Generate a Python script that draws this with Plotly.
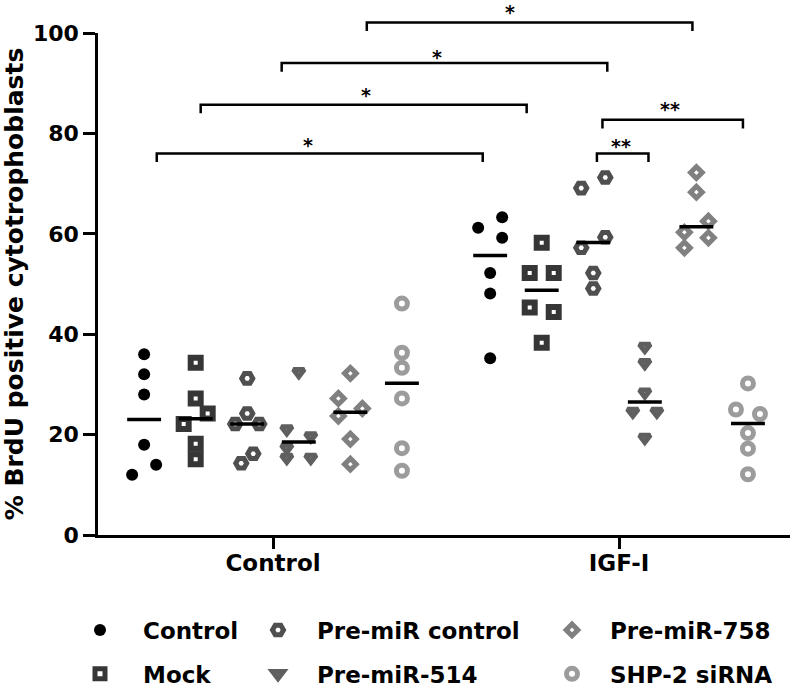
import numpy as np
import plotly.graph_objects as go

# ---------------- data ----------------
conditions = ["Control", "IGF-I"]
groups = ["Control", "Mock", "Pre-miR control", "Pre-miR-514", "Pre-miR-758", "SHP-2 siRNA"]

# % BrdU positive values; first list = Control condition, second = IGF-I condition
control_vals = [[36, 32, 28, 18, 14, 12], [63.3, 61.2, 59.2, 52.2, 48.1, 35.2]]
mock_vals = [[34.3, 27.2, 24.2, 22.1, 18.2, 15.1], [58.2, 52.2, 52.2, 45.3, 44.4, 38.3]]
premir_ctrl_vals = [[31.2, 24.2, 22.1, 22.1, 16.2, 14.3], [71.2, 69.1, 59.3, 57.2, 52.2, 49.1]]
premir514_vals = [[32.5, 21.1, 19.7, 17.4, 15.4, 15.4], [37.5, 34.3, 28.4, 24.6, 24.6, 19.4]]
premir758_vals = [[32.2, 27.2, 25.2, 23.7, 19.1, 14.1], [72.2, 68.3, 62.5, 60.3, 59.2, 57.2]]
shp2_vals = [[46.1, 36.3, 33.3, 27.2, 17.3, 12.8], [30.2, 25.0, 24.1, 20.3, 17.2, 12.1]]

# horizontal spread of each point inside its column (scatter-dot layout)
control_jit = [[0, 0, 0, 0, 1, -1], [1, -1, 1, 0, 0, 0]]
mock_jit = [[0, 0, 1, -1, 0, 0], [0, -1, 1, -1, 1, 0]]
premir_ctrl_jit = [[0, 0, -1, 1, 0.5, -0.5], [1, -1, 1, -1, 0, 0]]
premir514_jit = [[0, -1, 1, -1, -1, 1], [0, 0, 0, -1, 1, 0]]
premir758_jit = [[0, -1, 1, -1, 0, 0], [0, 0, 1, -1, 1, -1]]
shp2_jit = [[0, 0, 0, 0, 0, 0], [0, -1, 1, 0, 0, 0]]

# significance brackets: (left x, right x, height, star x, star y, label) in data units
brackets = [
    (0.271, 1.212, 102.1, 0.685, 104.6, "*"),
    (0.025, 0.966, 94.0, 0.473, 95.6, "*"),
    (-0.209, 0.733, 85.7, 0.268, 88.1, "*"),
    (-0.336, 0.606, 76.0, 0.101, 78.1, "*"),
    (0.952, 1.358, 82.7, 1.147, 85.3, "**"),
    (0.936, 1.085, 76.0, 1.006, 77.9, "**"),
]

y_ticks = [0, 20, 40, 60, 80, 100]
y_title = "% BrdU positive cytotrophoblasts"

# ---------------- style ----------------
FONT = "DejaVu Sans"
W, H = 794, 690
ML, MR, MT, MB = 98, 4, 33, 155
PW = W - ML - MR
XMIN, XMAX = -0.5058, 1.494
YMIN, YMAX = 0, 100
STEP = 0.149
JIT = 0.0347
HALF = 0.049

styles = [
    dict(symbol="circle", size=12, color="#000000", line=dict(width=0, color="#000000")),
    dict(symbol="square-open", size=10, color="#363636", line=dict(width=6, color="#363636")),
    dict(symbol="hexagon2-open", size=11, color="#4f4f4f", line=dict(width=5, color="#4f4f4f")),
    dict(symbol="triangle-down-open", size=9.5, color="#5f5f5f", line=dict(width=5, color="#5f5f5f")),
    dict(symbol="diamond-open", size=9, color="#808080", line=dict(width=5, color="#808080")),
    dict(symbol="circle-open", size=11, color="#9c9c9c", line=dict(width=5, color="#9c9c9c")),
]
legend_of = ["legend", "legend", "legend2", "legend2", "legend3", "legend3"]

all_vals = [control_vals, mock_vals, premir_ctrl_vals, premir514_vals, premir758_vals, shp2_vals]
all_jit = [control_jit, mock_jit, premir_ctrl_jit, premir514_jit, premir758_jit, shp2_jit]

fig = go.Figure()

med_x, med_y = [], []
for gi, (name, vals, jit) in enumerate(zip(groups, all_vals, all_jit)):
    xs, ys = [], []
    for ci in range(len(conditions)):
        center = ci + (gi - 2.5) * STEP
        for v, j in zip(vals[ci], jit[ci]):
            xs.append(center + j * JIT)
            ys.append(v)
        m = float(np.median(vals[ci]))
        med_x += [center - HALF, center + HALF, None]
        med_y += [m, m, None]
    fig.add_trace(go.Scatter(
        x=xs, y=ys, mode="markers", name=name, marker=styles[gi],
        legend=legend_of[gi], legendgroup=name, cliponaxis=False,
    ))

fig.add_trace(go.Scatter(x=med_x, y=med_y, mode="lines",
                         line=dict(color="black", width=3.5), showlegend=False,
                         hoverinfo="skip"))


def px_x(x):
    return (x - XMIN) / (XMAX - XMIN)


def px_y(y):
    return (y - YMIN) / (YMAX - YMIN)


shapes = []
annotations = []
drop = 1.7
for x0, x1, yb, sx, sy, lab in brackets:
    shapes.append(dict(
        type="path", xref="paper", yref="paper",
        path=f"M {px_x(x0)} {px_y(yb - drop)} L {px_x(x0)} {px_y(yb)} L {px_x(x1)} {px_y(yb)} L {px_x(x1)} {px_y(yb - drop)}",
        line=dict(color="black", width=2.5),
    ))
    annotations.append(dict(
        x=px_x(sx), y=px_y(sy), xref="paper", yref="paper", text=lab,
        showarrow=False, xanchor="center", yanchor="middle", yshift=-2, borderpad=0,
        font=dict(family=FONT, size=19, color="black", weight="bold"),
    ))

legend_font = dict(family=FONT, size=23, color="black", weight="bold")
common_leg = dict(font=legend_font, xanchor="left", yanchor="top", bgcolor="rgba(0,0,0,0)",
                  traceorder="grouped", tracegroupgap=11, orientation="v")
LEG_Y = -0.1464

fig.update_layout(
    width=W, height=H,
    margin=dict(l=ML, r=MR, t=MT, b=MB, pad=0, autoexpand=False),
    plot_bgcolor="white", paper_bgcolor="white",
    showlegend=True,
    legend=dict(x=(57 - ML) / PW, y=LEG_Y, itemwidth=76, **common_leg),
    legend2=dict(x=(239 - ML) / PW, y=LEG_Y, itemwidth=68, **common_leg),
    legend3=dict(x=(534 - ML) / PW, y=LEG_Y, itemwidth=66, **common_leg),
    shapes=shapes,
    annotations=annotations,
    xaxis=dict(
        range=[XMIN, XMAX], tickvals=[0, 1], ticktext=conditions,
        showline=True, linecolor="black", linewidth=2.5,
        ticks="outside", ticklen=11, tickwidth=2.5, tickcolor="black",
        showgrid=False, zeroline=False, ticklabelstandoff=-5,
        tickfont=dict(family=FONT, size=23, color="black", weight="bold"),
    ),
    yaxis=dict(
        range=[YMIN, YMAX], tickvals=y_ticks,
        showline=True, linecolor="black", linewidth=2.5,
        ticks="outside", ticklen=12, tickwidth=2.5, tickcolor="black",
        showgrid=False, zeroline=False,
        tickfont=dict(family=FONT, size=22, color="black", weight="bold"),
        title=dict(text=y_title, standoff=12,
                   font=dict(family=FONT, size=25, color="black", weight="bold")),
    ),
)

fig.write_html(
    "out.html",
    config={"displayModeBar": False},
    post_script="document.body.style.margin='0px';document.body.style.padding='0px';"
                "document.body.style.overflow='hidden';",
)
